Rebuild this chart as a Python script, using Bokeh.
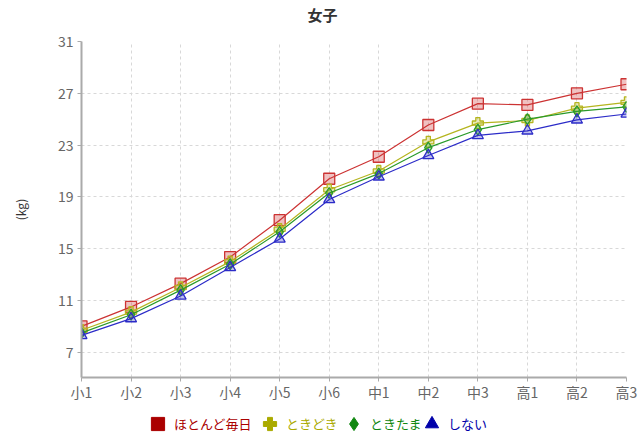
from bokeh.plotting import figure
from bokeh.models import Range1d, FixedTicker, Legend, LegendItem, ColumnDataSource, Label
from bokeh.layouts import column
from bokeh.embed import file_html
from bokeh.resources import INLINE

grades = ["小1", "小2", "小3", "小4", "小5", "小6", "中1", "中2", "中3", "高1", "高2", "高3"]
mainichi = [9.0, 10.5, 12.3, 14.35, 17.2, 20.4, 22.1, 24.55, 26.2, 26.1, 27.0, 27.7]
tokidoki = [8.7, 10.1, 12.0, 14.0, 16.5, 19.55, 21.0, 23.25, 24.7, 24.9, 25.85, 26.3]
tokitama = [8.5, 9.9, 11.8, 13.8, 16.3, 19.3, 20.8, 22.8, 24.2, 25.0, 25.6, 25.95]
shinai = [8.3, 9.6, 11.35, 13.55, 15.75, 18.8, 20.55, 22.2, 23.75, 24.1, 24.95, 25.4]
y_ticks = [7, 11, 15, 19, 23, 27, 31]

series_names = ["ほとんど毎日", "ときどき", "ときたま", "しない"]
line_colors = ["#cc3333", "#b5b51f", "#2a9a2a", "#2c2cc8"]
legend_colors = ["#aa0000", "#aaaa00", "#118811", "#0000aa"]
markers = ["square", "plus", "diamond", "triangle"]

JP = "Noto Sans CJK JP"
BL, BR = 81, 17  # shared left/right borders so the three strips line up

def strip(height):
    f = figure(width=643, height=height, output_backend="svg", toolbar_location=None,
               x_range=Range1d(0, 643 - BL - BR), y_range=Range1d(0, height),
               x_axis_location=None, y_axis_location=None,
               min_border_left=BL, min_border_right=BR, min_border_top=0, min_border_bottom=0)
    f.outline_line_color = None
    f.xgrid.visible = False
    f.ygrid.visible = False
    return f

# title strip
top = strip(28)
top.add_layout(Label(x=241, y=14, text="女子", text_align="center", text_baseline="middle",
                     text_font=JP, text_font_size="15px", text_font_style="bold",
                     text_color="#333333"))

p = figure(width=643, height=377, output_backend="svg", toolbar_location=None,
           x_range=Range1d(0, 11), y_range=Range1d(5.05, 31),
           min_border_left=BL, min_border_right=BR, min_border_top=13, min_border_bottom=28)
p.outline_line_color = None

x = list(range(len(grades)))
for vals, lc, mk in zip([mainichi, tokidoki, tokitama, shinai], line_colors, markers):
    src = ColumnDataSource(dict(x=x, y=vals))
    p.line("x", "y", source=src, line_color=lc, line_width=1.2)
    p.scatter("x", "y", source=src, marker=mk, size=11, line_color=lc, line_width=1.3,
              fill_color=lc, fill_alpha=0.3)

# axes
p.xaxis.ticker = FixedTicker(ticks=x)
p.xaxis.major_label_overrides = {i: g for i, g in enumerate(grades)}
p.yaxis.ticker = FixedTicker(ticks=y_ticks)
for ax in (p.xaxis[0], p.yaxis[0]):
    ax.axis_line_color = "#aaaaaa"
    ax.axis_line_width = 2
    ax.major_tick_line_color = "#aaaaaa"
    ax.major_tick_line_width = 1
    ax.major_tick_out = 4
    ax.major_tick_in = 0
    ax.minor_tick_line_color = None
    ax.major_label_text_font = JP
    ax.major_label_text_font_size = "14px"
    ax.major_label_text_color = "#666666"
p.xaxis.major_label_standoff = 0
p.yaxis.major_label_standoff = 4
p.yaxis.axis_label = "(kg)"
p.yaxis.axis_label_text_font = JP
p.yaxis.axis_label_text_font_size = "12px"
p.yaxis.axis_label_text_font_style = "normal"
p.yaxis.axis_label_text_color = "#333333"
p.yaxis.axis_label_standoff = 26

p.xgrid.ticker = FixedTicker(ticks=x)
p.ygrid.ticker = FixedTicker(ticks=y_ticks)
for g in (p.xgrid[0], p.ygrid[0]):
    g.grid_line_color = "#d8d8d8"
    g.grid_line_dash = "3 3"
    g.grid_line_width = 1

# legend strip below the chart: one legend per series so each label takes its colour
leg = strip(35)
legend_x = [60, 172, 256, 334]
legend_standoff = [-6, -3, -7, -6]
nan = float("nan")
for name, lc, mk, lx, ls in zip(series_names, legend_colors, markers, legend_x, legend_standoff):
    r = leg.scatter([nan], [nan], marker=mk, size=14, color=lc)
    lg = Legend(items=[LegendItem(label=name, renderers=[r])], location=(lx, 0),
                orientation="horizontal", padding=0, margin=0, spacing=0,
                glyph_width=33, glyph_height=33, label_standoff=ls,
                border_line_alpha=0, background_fill_alpha=0,
                label_text_font=JP, label_text_font_size="13px", label_text_color=lc)
    leg.add_layout(lg, "center")

layout = column(top, p, leg, spacing=0)
open("out.html", "w").write(file_html(layout, INLINE))
